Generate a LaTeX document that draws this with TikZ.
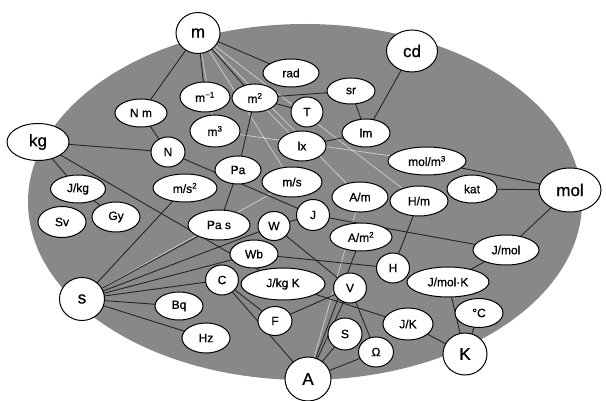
\documentclass[tikz,border=0pt]{standalone}
\usepackage{fontspec}
\setmainfont{Liberation Sans}[FakeBold=0.8]
\usetikzlibrary{shapes.geometric}
\definecolor{field}{RGB}{136,136,136}
\pgfdeclarelayer{field}
\pgfdeclarelayer{links}
\pgfsetlayers{field,links,main}
\tikzset{
  unit/.style={ellipse, draw=black, line width=1pt, fill=white, inner sep=0pt,
               font=\fontsize{12}{12}\selectfont},
  base/.style={unit, font=\fontsize{17}{17}\selectfont},
  sz/.style 2 args={minimum width=#1pt, minimum height=#2pt},
  link/.style={line width=0.9pt, black!85},
  ratio/.style={line width=0.8pt, white, opacity=0.55},
}
\begin{document}
\begin{tikzpicture}[x=1pt,y=-1pt]
\useasboundingbox (0,0) rectangle (606,401);
\begin{pgfonlayer}{field}
\fill[white] (0,0) rectangle (606,401);
% grey field behind the units
\fill[field] (305,202) ellipse [x radius=277pt, y radius=178pt];
\end{pgfonlayer}

% base units
\node[base, sz={44}{41}] (m)   at (198,33)  {m};
\node[base, sz={51}{42}] (cd)  at (412,51)  {cd};
\node[base, sz={62}{37}] (kg)  at (38,142)  {kg};
\node[base, sz={62}{44}] (mol) at (570,190) {mol};
\node[base, sz={46}{44}] (A)   at (308,379) {A};
\node[base, sz={44}{42}] (K)   at (465,354) {K};
\node[base, sz={45}{43}] (s)   at (82,299)  {s};

% derived units
\node[unit, sz={56}{28}] (rad)   at (291,73)  {rad};
\node[unit, sz={48}{26}] (sr)    at (351,91)  {sr};
\node[unit, sz={50}{30}] (minv)  at (205,97)  {m\textsuperscript{−1}};
\node[unit, sz={46}{28}] (msq)   at (255,98)  {m\textsuperscript{2}};
\node[unit, sz={32}{30}] (T)     at (307,112) {T};
\node[unit, sz={50}{32}] (mcub)  at (215,131) {m\textsuperscript{3}};
\node[unit, sz={52}{28}] (Nm)    at (141,113) {N m};
\node[unit, sz={34}{30}] (N)     at (168,152) {N};
\node[unit, sz={48}{30}] (lx)    at (302,146) {lx};
\node[unit, sz={48}{28}] (lm)    at (366,133) {lm};
\node[unit, sz={46}{28}] (Pa)    at (238,170) {Pa};
\node[unit, sz={60}{30}] (ms)    at (292,182) {m/s};
\node[unit, sz={64}{28}] (mss)   at (185,188) {m/s\textsuperscript{2}};
\node[unit, sz={78}{28}] (molm)  at (427,161) {mol/m\textsuperscript{3}};
\node[unit, sz={50}{28}] (kat)   at (472,189) {kat};
\node[unit, sz={56}{30}] (Am)    at (360,197) {A/m};
\node[unit, sz={58}{30}] (Hm)    at (419,201) {H/m};
\node[unit, sz={33}{31}] (J)     at (313,215) {J};
\node[unit, sz={62}{28}] (Am2)   at (361,237) {A/m\textsuperscript{2}};
\node[unit, sz={62}{30}] (Pas)   at (219,225) {Pa s};
\node[unit, sz={32}{29}] (W)     at (274,226) {W};
\node[unit, sz={48}{28}] (Wb)    at (254,254) {Wb};
\node[unit, sz={66}{30}] (Jmol)  at (506,250) {J/mol};
\node[unit, sz={33}{30}] (H)     at (393,268) {H};
\node[unit, sz={82}{30}] (JmolK) at (448,282) {J/mol·K};
\node[unit, sz={33}{30}] (C)     at (222,280) {C};
\node[unit, sz={84}{32}] (JkgK)  at (283,284) {J/kg K};
\node[unit, sz={33}{30}] (V)     at (350,288) {V};
\node[unit, sz={48}{28}] (Bq)    at (179,306) {Bq};
\node[unit, sz={34}{29}] (F)     at (275,321) {F};
\node[unit, sz={48}{29}] (degC)  at (479,313) {°C};
\node[unit, sz={50}{32}] (JK)    at (408,324) {J/K};
\node[unit, sz={34}{32}] (S)     at (345,334) {S};
\node[unit, sz={35}{30}] (Ohm)   at (376,352) {Ω};
\node[unit, sz={48}{30}] (Hz)    at (206,338) {Hz};
\node[unit, sz={55}{28}] (Jkg)   at (78,189)  {J/kg};
\node[unit, sz={48}{31}] (Sv)    at (62,222)  {Sv};
\node[unit, sz={48}{30}] (Gy)    at (116,217) {Gy};

% connectors, drawn behind the units
\begin{pgfonlayer}{links}
% quotients
\foreach \a/\b in {m/ms, m/Am, m/Hm, m/mcub, msq/lx, mcub/molm, s/ms, A/Am}
  \draw[ratio] (\a.center) -- (\b.center);
% products
\foreach \a/\b in {m/Nm, m/minv, m/msq, m/rad, msq/sr, msq/T, msq/Pa, sr/lm,
                   cd/lm, lx/lm, Nm/N, kg/N, kg/Jkg, kg/JkgK, N/J, Jkg/Gy,
                   s/mss, s/Pas, s/W, s/Wb, s/C, s/Bq, s/Hz, Pa/Pas, J/W,
                   W/V, Wb/H, A/Am2, A/V, A/S, A/Ohm, C/A, C/F, F/V, V/Ohm,
                   JkgK/JK, Hm/H, J/Jmol, mol/Jmol, mol/kat, mol/molm,
                   Jmol/JmolK, JmolK/K, degC/K, JK/K}
  \draw[link] (\a.center) -- (\b.center);
\end{pgfonlayer}
\end{tikzpicture}
\end{document}
